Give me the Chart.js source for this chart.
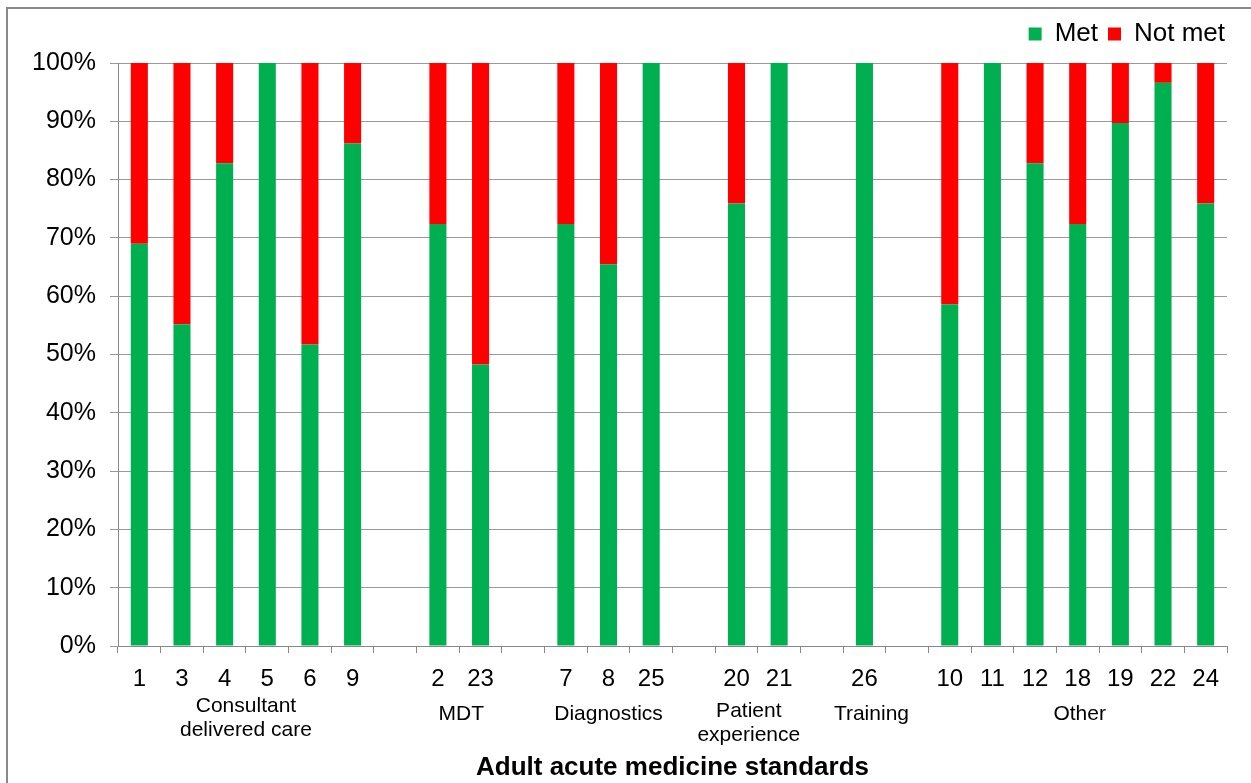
<!DOCTYPE html>
<html>
<head>
<meta charset="utf-8">
<script src="https://cdn.jsdelivr.net/npm/chart.js@4"></script>
<style>
html, body { margin: 0; padding: 0; background: #fff; }
</style>
</head>
<body>
<canvas id="myChart" width="1251" height="783"></canvas>
<script>
// Standards on the x axis, empty strings are the gaps between groups
const standards = ['1', '3', '4', '5', '6', '9', '', '2', '23', '', '7', '8', '25', '', '20', '21', '', '26', '', '10', '11', '12', '18', '19', '22', '24'];
const metValues = [69.0, 55.2, 82.8, 100, 51.7, 86.2, null, 72.4, 48.3, null, 72.4, 65.5, 100, null, 75.9, 100, null, 100, null, 58.6, 100, 82.8, 72.4, 89.7, 96.6, 75.9];
const notMetValues = [31.0, 44.8, 17.2, 0, 48.3, 13.8, null, 27.6, 51.7, null, 27.6, 34.5, 0, null, 24.1, 0, null, 0, null, 41.4, 0, 17.2, 27.6, 10.3, 3.4, 24.1];

// Group labels under the standard numbers (first and last category of each group)
const groupNames = [['Consultant', 'delivered care'], ['MDT'], ['Diagnostics'], ['Patient', 'experience'], ['Training'], ['Other']];
const groupStart = [0, 7, 10, 14, 17, 19];
const groupEnd = [5, 8, 12, 15, 17, 25];

Chart.defaults.font.family = 'Arial, "Liberation Sans", sans-serif';
Chart.defaults.color = '#000';

// Grey frame round the whole chart
const framePlugin = {
    id: 'frame',
    beforeDraw(chart) {
        const ctx = chart.ctx;
        ctx.save();
        ctx.fillStyle = '#fff';
        ctx.fillRect(0, 0, chart.width, chart.height);
        ctx.strokeStyle = '#898989';
        ctx.lineWidth = 2;
        ctx.strokeRect(7, 8, 1300, 900);
        ctx.restore();
    }
};

// Extra room under the legend, and push it a bit to the right
const legendSpacer = {
    id: 'legendSpacer',
    afterInit(chart) {
        const legend = chart.legend;
        const fit = legend.fit;
        legend.fit = function () {
            fit.call(this);
            this.height += 6;
        };
    },
    afterLayout(chart) {
        chart.legend.right += 8;
    }
};

// Draw the group names centred under their standards
const groupPlugin = {
    id: 'groups',
    afterDraw(chart) {
        const ctx = chart.ctx;
        const x = chart.scales.x;
        const nudge = [0, 2, 0, -9, 7, 2];
        ctx.save();
        ctx.font = '21px Arial, "Liberation Sans", sans-serif';
        ctx.fillStyle = '#000';
        ctx.textAlign = 'center';
        ctx.textBaseline = 'middle';
        groupNames.forEach((lines, i) => {
            const cx = (x.getPixelForValue(groupStart[i]) + x.getPixelForValue(groupEnd[i])) / 2 + nudge[i];
            const top = lines.length > 1 ? (i === 0 ? 706 : 711) : 714;
            lines.forEach((line, j) => {
                ctx.fillText(line, cx, top + j * 24);
            });
        });
        ctx.restore();
    }
};

const config = {
    type: 'bar',
    data: {
        labels: standards,
        datasets: [
            {
                label: 'Met',
                data: metValues,
                backgroundColor: '#00B050',
                barPercentage: 0.4,
                categoryPercentage: 1.0
            },
            {
                label: 'Not met',
                data: notMetValues,
                backgroundColor: '#FF0000',
                barPercentage: 0.4,
                categoryPercentage: 1.0
            }
        ]
    },
    options: {
        responsive: false,
        animation: false,
        devicePixelRatio: 1,
        layout: {
            padding: { top: 11, right: 24, left: 0, bottom: 0 }
        },
        plugins: {
            legend: {
                position: 'top',
                align: 'end',
                labels: {
                    boxWidth: 13,
                    boxHeight: 13,
                    padding: 10,
                    font: { size: 26 }
                }
            },
            tooltip: { enabled: false }
        },
        scales: {
            x: {
                stacked: true,
                offset: true,
                grid: {
                    offset: true,
                    drawOnChartArea: false,
                    tickLength: 7,
                    color: '#888'
                },
                border: { color: '#888' },
                ticks: {
                    font: { size: 24 },
                    padding: 12,
                    maxRotation: 0,
                    autoSkip: false
                },
                title: {
                    display: true,
                    text: 'Adult acute medicine standards',
                    font: { size: 26, weight: 'bold' },
                    padding: { top: 0, bottom: 0 }
                },
                afterFit(scale) { scale.height = 137; }
            },
            y: {
                stacked: true,
                min: 0,
                max: 100,
                ticks: {
                    stepSize: 10,
                    font: { size: 25 },
                    padding: 14,
                    callback: value => value + '%'
                },
                grid: {
                    color: '#999',
                    tickLength: 8
                },
                border: { color: '#888' },
                afterFit(scale) { scale.width = 118; }
            }
        }
    },
    plugins: [framePlugin, legendSpacer, groupPlugin]
};

const ctx = document.getElementById('myChart').getContext('2d');
const myChart = new Chart(ctx, config);
</script>
</body>
</html>
